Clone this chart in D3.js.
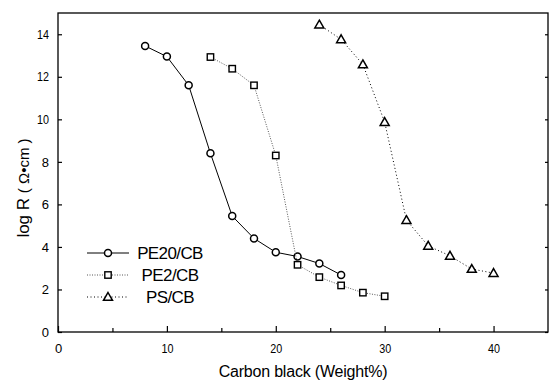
<!DOCTYPE html>
<html>
<head>
<meta charset="utf-8">
<script src="https://cdn.jsdelivr.net/npm/d3@7"></script>
<style>
  body { margin: 0; background: #fff; }
  svg { display: block; font-family: "Liberation Sans", Arial, sans-serif; }
</style>
</head>
<body>
<svg id="chart"></svg>
<script>
let black = "#000";
let grey = "#444";

const pe20X = [8, 10, 12, 14, 16, 18, 20, 22, 24, 26];
const pe20Y = [13.45, 12.95, 11.6, 8.4, 5.45, 4.4, 3.75, 3.55, 3.22, 2.68];

const pe2X = [14, 16, 18, 20, 22, 24, 26, 28, 30];
const pe2Y = [12.93, 12.38, 11.6, 8.3, 3.16, 2.58, 2.19, 1.85, 1.68];

const psX = [24, 26, 28, 30, 32, 34, 36, 38, 40];
const psY = [14.45, 13.76, 12.58, 9.87, 5.26, 4.05, 3.58, 2.96, 2.77];

const seriesNames = ["PE20/CB", "PE2/CB", "PS/CB"];
const xTicks = [0, 10, 20, 30, 40];
const yTicks = [0, 2, 4, 6, 8, 10, 12, 14];

const width = 549;
const height = 382;
const margin = { top: 13, right: 1, bottom: 50, left: 58 };

let boundedWidth = width - margin.left - margin.right;
let boundedHeight = height - margin.top - margin.bottom;

const svg = d3.select('#chart')
  .attr('width', width)
  .attr('height', height);

const g = svg.append('g')
  .attr('transform', `translate(${margin.left}, ${margin.top})`);

const xScale = d3.scaleLinear().domain([0, 45]).range([0, boundedWidth]);
const yScale = d3.scaleLinear().domain([0, 15]).range([boundedHeight, 0]);

//frame
g.append("rect")
  .attr("width", boundedWidth)
  .attr("height", boundedHeight)
  .attr("fill", "none")
  .attr("stroke", black)
  .attr("stroke-width", 1.3);

//x axis, ticks point inward
g.append("g")
  .attr("class", "xaxis")
  .attr("transform", `translate(0, ${boundedHeight})`)
  .call(d3.axisBottom(xScale).tickValues(xTicks).tickSize(-6).tickPadding(12).tickFormat(d3.format("d")))
  .call(a => a.select(".domain").remove());

g.append("g")
  .attr("transform", `translate(0, ${boundedHeight})`)
  .call(d3.axisBottom(xScale).tickValues([5, 15, 25, 35]).tickSize(-4).tickFormat(""))
  .call(a => a.select(".domain").remove());

//y axis
g.append("g")
  .attr("class", "yaxis")
  .call(d3.axisLeft(yScale).tickValues(yTicks).tickSize(-4).tickPadding(9).tickFormat(d3.format("d")))
  .call(a => a.select(".domain").remove());

g.append("g")
  .attr("transform", `translate(${boundedWidth}, 0)`)
  .call(d3.axisRight(yScale).tickValues(yTicks).tickSize(-3).tickFormat(""))
  .call(a => a.select(".domain").remove());

g.selectAll(".tick line").attr("stroke", black).attr("stroke-width", 1.2);
g.selectAll(".xaxis .tick text, .yaxis .tick text")
  .attr("fill", black)
  .style("font-size", "13px")
  .attr("textLength", d => d >= 10 ? 12 : null)
  .attr("lengthAdjust", "spacingAndGlyphs");

//axis titles
svg.append("text")
  .attr("x", 303)
  .attr("y", 377)
  .attr("text-anchor", "middle")
  .style("font-size", "16px")
  .style("letter-spacing", "-0.2px")
  .text("Carbon black (Weight%)");

const yTitle = svg.append("text")
  .attr("transform", "translate(29, 188) rotate(-90)")
  .attr("text-anchor", "middle")
  .style("font-size", "17px");
yTitle.append("tspan").text("log R ");
yTitle.append("tspan").style("font-size", "15px").text("( Ω•cm )");

//series
const series = [
  { name: seriesNames[0], xs: pe20X, ys: pe20Y, dash: null, shape: "circle", width: 1, color: black },
  { name: seriesNames[1], xs: pe2X, ys: pe2Y, dash: "1,1.5", shape: "square", width: 0.9, color: grey },
  { name: seriesNames[2], xs: psX, ys: psY, dash: "1,2.5", shape: "triangle", width: 1, color: black }
];

const line = d3.line().x(d => xScale(d[0])).y(d => yScale(d[1]));

function drawMarker(sel, shape, x, y) {
  if (shape === "circle") {
    sel.append("circle").attr("cx", x).attr("cy", y).attr("r", 3.5)
      .attr("fill", "#fff").attr("stroke", black).attr("stroke-width", 1.5);
  } else if (shape === "square") {
    sel.append("rect").attr("x", x - 3.2).attr("y", y - 3.2).attr("width", 6.4).attr("height", 6.4)
      .attr("fill", "#fff").attr("stroke", black).attr("stroke-width", 1.4);
  } else {
    sel.append("path")
      .attr("d", `M${x},${y - 4.5}L${x + 4.5},${y + 3.3}L${x - 4.5},${y + 3.3}Z`)
      .attr("fill", "#fff").attr("stroke", black).attr("stroke-width", 1.5);
  }
}

series.forEach(s => {
  const pts = s.xs.map((x, i) => [x, s.ys[i]]);
  g.append("path")
    .datum(pts)
    .attr("d", line)
    .attr("fill", "none")
    .attr("stroke", s.color)
    .attr("stroke-width", s.width)
    .attr("stroke-dasharray", s.dash);
  const mg = g.append("g");
  pts.forEach(p => drawMarker(mg, s.shape, xScale(p[0]), yScale(p[1])));
});

//legend
const legend = svg.append("g");
const legendY = [253, 275, 297];
series.forEach((s, i) => {
  const y = legendY[i];
  legend.append("line")
    .attr("x1", 87).attr("x2", 129).attr("y1", y).attr("y2", y)
    .attr("stroke", s.color).attr("stroke-width", s.width)
    .attr("stroke-dasharray", s.dash);
  drawMarker(legend, s.shape, 108, y);
  legend.append("text")
    .attr("x", 170).attr("y", y + 6)
    .attr("text-anchor", "middle")
    .style("font-size", "17px")
    .style("letter-spacing", "-0.6px")
    .text(s.name);
});
</script>
</body>
</html>
